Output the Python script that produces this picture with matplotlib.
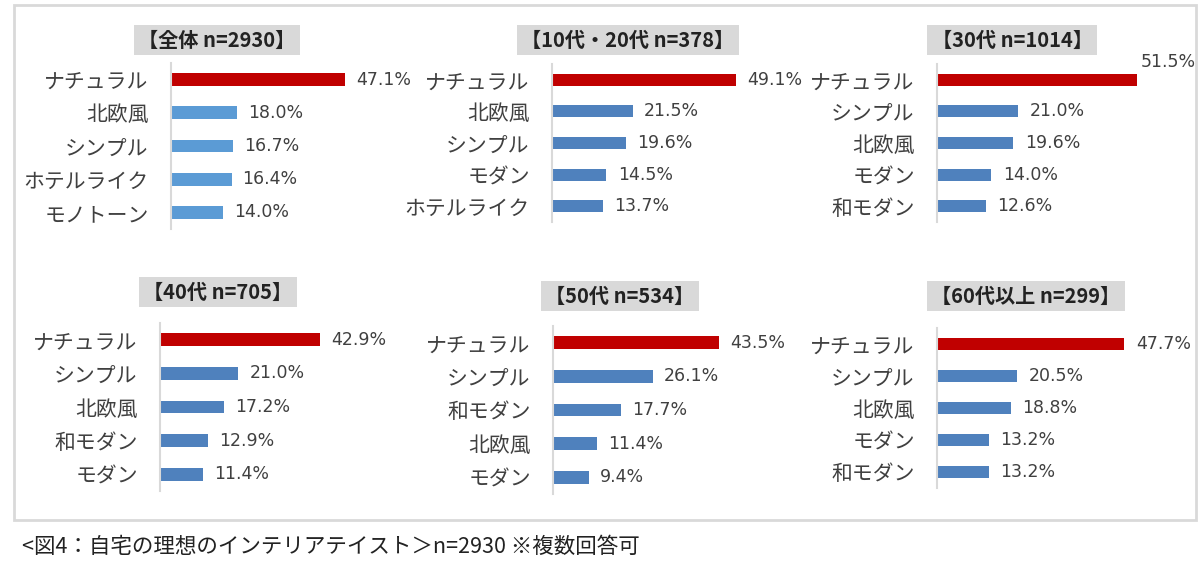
import matplotlib
matplotlib.use("Agg")
import matplotlib.pyplot as plt
from matplotlib.patches import Rectangle

plt.rcParams['font.family'] = ['Noto Sans CJK JP', 'DejaVu Sans']

# Data
titles = ["【全体 n=2930】", "【10代・20代 n=378】", "【30代 n=1014】",
          "【40代 n=705】", "【50代 n=534】", "【60代以上 n=299】"]

labels_all = ["ナチュラル", "北欧風", "シンプル", "ホテルライク", "モノトーン"]
values_all = [47.1, 18.0, 16.7, 16.4, 14.0]

labels_1020 = ["ナチュラル", "北欧風", "シンプル", "モダン", "ホテルライク"]
values_1020 = [49.1, 21.5, 19.6, 14.5, 13.7]

labels_30 = ["ナチュラル", "シンプル", "北欧風", "モダン", "和モダン"]
values_30 = [51.5, 21.0, 19.6, 14.0, 12.6]

labels_40 = ["ナチュラル", "シンプル", "北欧風", "和モダン", "モダン"]
values_40 = [42.9, 21.0, 17.2, 12.9, 11.4]

labels_50 = ["ナチュラル", "シンプル", "和モダン", "北欧風", "モダン"]
values_50 = [43.5, 26.1, 17.7, 11.4, 9.4]

labels_60 = ["ナチュラル", "シンプル", "北欧風", "モダン", "和モダン"]
values_60 = [47.7, 20.5, 18.8, 13.2, 13.2]

caption = "<図4：自宅の理想のインテリアテイスト＞n=2930 ※複数回答可"

W, H = 1200, 573
RED = "#c00000"
TEXT = "#404040"

fig = plt.figure(figsize=(W / 100, H / 100), dpi=100)

# outer frame
fig.patches.append(Rectangle((14 / W, 1 - 520 / H), 1182 / W, 515 / H,
                             transform=fig.transFigure, fill=False,
                             edgecolor="#d9d9d9", linewidth=2))

# panel geometry in pixels: axis x, axes top, axes bottom, px per %, title center x/y, bar colour
panels = [
    (labels_all, values_all, 171, 63, 229, 3.69, 217, 40, "#5b9bd5"),
    (labels_1020, values_1020, 552, 64, 222, 3.75, 628, 40, "#4f81bd"),
    (labels_30, values_30, 937, 64, 222, 3.88, 1012, 40, "#4f81bd"),
    (labels_40, values_40, 160, 323, 491, 3.73, 218, 292, "#4f81bd"),
    (labels_50, values_50, 553, 326, 494, 3.82, 620, 296, "#4f81bd"),
    (labels_60, values_60, 937, 328, 488, 3.92, 1026, 296, "#4f81bd"),
]

for i, (labs, vals, x0, top, bot, scale, tx, ty, col) in enumerate(panels):
    width_px = 230
    ax = fig.add_axes([x0 / W, 1 - bot / H, width_px / W, (bot - top) / H])
    ax.set_xlim(0, width_px / scale)
    ax.set_ylim(len(vals) - 0.5, -0.5)
    colors = [RED] + [col] * (len(vals) - 1)
    ax.barh(range(len(vals)), vals, height=0.38, color=colors)
    for j, v in enumerate(vals):
        if i == 2 and j == 0:
            ax.text(v + 1.0, j - 0.55, f"{v:.1f}%", va="center", ha="left",
                    fontsize=12.5, color=TEXT, family="DejaVu Sans", clip_on=False)
        else:
            ax.text(v + 3.0, j, f"{v:.1f}%", va="center", ha="left",
                    fontsize=12.5, color=TEXT, family="DejaVu Sans", clip_on=False)
    ax.set_yticks(range(len(vals)))
    ax.set_yticklabels(labs, fontsize=15, color=TEXT)
    ax.tick_params(axis="y", length=0, pad=16)
    ax.set_xticks([])
    for s in ["top", "right", "bottom"]:
        ax.spines[s].set_visible(False)
    ax.spines["left"].set_color("#d9d9d9")
    ax.spines["left"].set_linewidth(1.5)
    ax.patch.set_alpha(0)

    fig.text(tx / W, 1 - ty / H, titles[i], ha="center", va="center",
             fontsize=14.5, fontweight="bold", color="#222222",
             bbox=dict(facecolor="#d9d9d9", edgecolor="none", pad=3))

fig.text(22 / W, 1 - 547 / H, caption, ha="left", va="center",
         fontsize=15.5, color="#222222")

fig.savefig("out.png", dpi=100, facecolor="white")
